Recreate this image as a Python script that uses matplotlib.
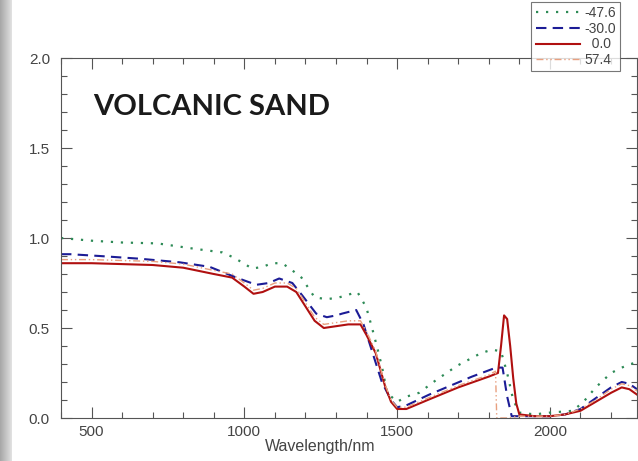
import numpy as np
import matplotlib
matplotlib.use("Agg")
import matplotlib.pyplot as plt
from matplotlib.ticker import MultipleLocator

# ---- data ----
wl_red = [400, 500, 600, 700, 800, 900, 960, 1000, 1030, 1060, 1100, 1140, 1170,
          1200, 1230, 1260, 1300, 1340, 1380, 1400, 1430, 1460, 1480, 1500, 1530,
          1600, 1700, 1800, 1830, 1840, 1850, 1860, 1870, 1880, 1890, 1900, 1950,
          2000, 2050, 2100, 2150, 2200, 2235, 2260, 2285]
refl_red = [0.86, 0.86, 0.855, 0.85, 0.835, 0.80, 0.78, 0.73, 0.69, 0.70, 0.73, 0.73, 0.70,
            0.62, 0.54, 0.50, 0.51, 0.52, 0.52, 0.46, 0.36, 0.18, 0.09, 0.05, 0.05,
            0.10, 0.17, 0.23, 0.25, 0.40, 0.57, 0.55, 0.40, 0.22, 0.08, 0.02, 0.01,
            0.01, 0.02, 0.04, 0.09, 0.14, 0.17, 0.16, 0.13]

wl_green = [400, 500, 600, 716, 837, 928, 967, 1026, 1060, 1091, 1124, 1157, 1187,
            1230, 1270, 1310, 1370, 1399, 1418, 1435, 1451, 1467, 1500, 1533, 1572,
            1627, 1696, 1774, 1811, 1840, 1860, 1880, 1900, 1950, 2000, 2075, 2110,
            2150, 2200, 2235, 2265, 2285]
refl_green = [1.00, 0.985, 0.975, 0.97, 0.94, 0.92, 0.89, 0.83, 0.84, 0.86, 0.86, 0.82, 0.78,
              0.67, 0.66, 0.67, 0.70, 0.615, 0.50, 0.39, 0.28, 0.14, 0.09, 0.12, 0.14,
              0.21, 0.29, 0.36, 0.38, 0.37, 0.25, 0.10, 0.03, 0.02, 0.03, 0.04, 0.09,
              0.17, 0.25, 0.28, 0.30, 0.31]

wl_blue = [400, 430, 526, 657, 788, 886, 974, 1039, 1080, 1114, 1157, 1190, 1235,
           1270, 1301, 1320, 1366, 1390, 1420, 1450, 1480, 1500, 1530, 1605, 1745,
           1824, 1845, 1860, 1875, 1900, 1950, 2000, 2050, 2100, 2150, 2200, 2235,
           2260, 2285]
refl_blue = [0.91, 0.91, 0.90, 0.885, 0.865, 0.84, 0.78, 0.74, 0.75, 0.775, 0.75, 0.68, 0.58,
             0.56, 0.57, 0.58, 0.60, 0.52, 0.36, 0.20, 0.10, 0.06, 0.07, 0.13, 0.23,
             0.28, 0.28, 0.12, 0.01, 0.01, 0.01, 0.01, 0.02, 0.05, 0.11, 0.17, 0.20,
             0.19, 0.16]

wl_orange = [400, 500, 600, 700, 800, 900, 960, 1000, 1030, 1060, 1100, 1140, 1170,
             1200, 1230, 1260, 1300, 1340, 1380, 1400, 1430, 1460, 1480, 1500, 1530,
             1600, 1700, 1800, 1822, 1826, 1860, 1900, 1950, 2000, 2050, 2100, 2150,
             2200, 2235, 2260, 2285]
refl_orange = [0.88, 0.88, 0.875, 0.87, 0.855, 0.82, 0.80, 0.75, 0.71, 0.72, 0.75, 0.75, 0.72,
               0.64, 0.56, 0.52, 0.53, 0.54, 0.54, 0.48, 0.37, 0.19, 0.10, 0.06, 0.06,
               0.11, 0.18, 0.24, 0.26, 0.0, 0.0, 0.01, 0.01,
               0.01, 0.02, 0.05, 0.10, 0.16, 0.19, 0.18, 0.15]

labels = ["-47.6", "-30.0", "\u20070.0", "57.4"]

fig = plt.figure(figsize=(6.38, 4.61), dpi=100)

# grey strip at the left edge of the slide
bg = fig.add_axes([0, 0, 12 / 638, 1])
grad = np.linspace(0, 1, 50).reshape(1, -1)
bg.imshow(grad, aspect="auto", cmap=matplotlib.colors.LinearSegmentedColormap.from_list(
    "g", ["#a6a6a6", "#e2e2e2"]), extent=[0, 1, 0, 1])
bg.axis("off")

ax = fig.add_axes([61 / 638, 1 - 418 / 461, 576 / 638, 360 / 461])

ax.plot(wl_green, refl_green, color="#2e8b57", lw=1.6, ls=(0, (1, 3.5)), label=labels[0])
ax.plot(wl_blue, refl_blue, color="#1c1c96", lw=1.5, ls=(0, (5, 3)), label=labels[1])
ax.plot(wl_red, refl_red, color="#b01010", lw=1.5, ls="-", label=labels[2])
ax.plot(wl_orange, refl_orange, color="#e8a080", lw=1.0, ls=(0, (5, 2, 1, 2, 1, 2)), label=labels[3])

ax.set_xlim(400, 2285)
ax.set_ylim(0, 2.0)
ax.xaxis.set_major_locator(MultipleLocator(500))
ax.xaxis.set_minor_locator(MultipleLocator(100))
ax.yaxis.set_major_locator(MultipleLocator(0.5))
ax.yaxis.set_minor_locator(MultipleLocator(0.1))
ax.yaxis.set_major_formatter(matplotlib.ticker.FormatStrFormatter("%.1f"))
ax.tick_params(which="both", direction="in", top=True, right=True, width=0.8,
               colors="#555555", labelcolor="#444444", labelsize=11)
ax.tick_params(which="major", length=8)
ax.tick_params(which="minor", length=4)
ax.tick_params(axis="y", pad=8)
ax.tick_params(axis="x", pad=5)
for lab in ax.get_xticklabels() + ax.get_yticklabels():
    lab.set_family("Liberation Sans")
for s in ax.spines.values():
    s.set_color("#555555")
    s.set_linewidth(0.8)

ax.set_xlabel("Wavelength/nm", fontsize=11.5, color="#444444", family="Liberation Sans")
ax.xaxis.set_label_coords(0.45, -0.058)

ax.text(93 / 638, 1 - 107 / 461, "VOLCANIC SAND", transform=fig.transFigure,
        fontsize=21, fontweight="bold", family="Lato", color="#1a1a1a", va="center")

leg = fig.legend(loc="upper right", bbox_to_anchor=(620 / 638, 1 - 2 / 461),
                 prop={"family": "Liberation Sans", "size": 10},
                 frameon=True, fancybox=False, edgecolor="#555555",
                 handlelength=3.2, labelspacing=0.12, borderpad=0.3,
                 handletextpad=0.3, borderaxespad=0)
leg.get_frame().set_linewidth(0.8)
for t in leg.get_texts():
    t.set_color("#444444")

fig.savefig("out.png", dpi=100)
